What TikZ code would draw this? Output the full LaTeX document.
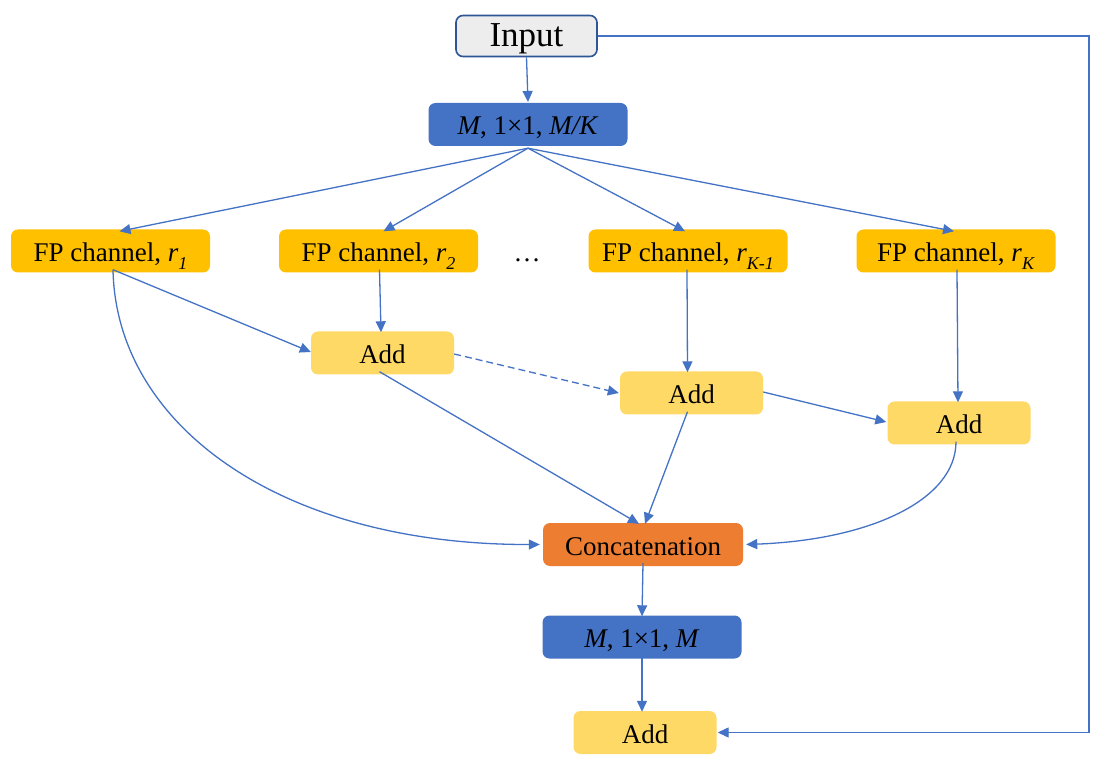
\documentclass[tikz,border=0pt]{standalone}
\usepackage{fontspec}
\setmainfont{Liberation Serif}
\usetikzlibrary{arrows.meta}
\definecolor{lineblue}{HTML}{4472C4}
\definecolor{darkblue}{HTML}{2F5597}
\definecolor{fpfill}{HTML}{FFC000}
\definecolor{addfill}{HTML}{FFD966}
\definecolor{catfill}{HTML}{ED7D31}
\definecolor{inpfill}{HTML}{EDEDED}
\newcommand{\sbx}[1]{\raisebox{-0.28em}{\fontsize{18}{18}\selectfont\textit{#1}}}
\tikzset{
  box/.style={rounded corners=7pt, inner sep=0pt, align=center,
    font=\fontsize{27}{30}\selectfont, text=black, text height=22pt, text depth=0pt},
  fpbox/.style={box, fill=fpfill, minimum width=199pt, minimum height=43pt},
  addbox/.style={box, fill=addfill, minimum width=143pt, minimum height=43pt},
  convbox/.style={box, fill=lineblue, minimum width=199pt, minimum height=43pt, text height=21pt},
  catbox/.style={box, fill=catfill, minimum width=200pt, minimum height=43pt, text height=21pt},
  inbox/.style={box, fill=inpfill, draw=darkblue, line width=1.6pt,
    minimum width=141pt, minimum height=41pt, font=\fontsize{35}{38}\selectfont},
  conn/.style={draw=lineblue, line width=1.3pt,
    -{Triangle[length=11pt,width=10pt]}},
}
\begin{document}
\begin{tikzpicture}[x=1pt,y=-1pt]
\useasboundingbox (0,0) rectangle (1112,767);
\fill[white] (0,0) rectangle (1112,767);

\node[inbox] (inp) at (526.5,36) {Input};
\node[convbox] (mk) at (528,124.5) {\textit{M}, 1×1, \textit{M/K}};
\node[fpbox] (fp1) at (110.5,251) {FP channel, \textit{r}\sbx{1}};
\node[fpbox] (fp2) at (378.5,251) {FP channel, \textit{r}\sbx{2}};
\node[box] (dots) at (527,251) {\textellipsis};
\node[fpbox] (fpk1) at (688,251) {FP channel, \textit{r}\sbx{K-1}};
\node[fpbox] (fpk) at (956,251) {FP channel, \textit{r}\sbx{K}};
\node[addbox] (add1) at (382.5,353) {Add};
\node[addbox] (add2) at (691.5,393) {Add};
\node[addbox] (add3) at (959,423) {Add};
\node[catbox] (cat) at (643,544.5) {Concatenation};
\node[convbox] (mm) at (642,637) {\textit{M}, 1×1, \textit{M}};
\node[addbox] (addf) at (645,732.5) {Add};
\coordinate (corner) at (1089,36);

\draw[conn] (inp.south) -- (mk.south |- 0,102);
\draw[conn] ([yshift=-2pt]mk.south) -- ([xshift=9pt,yshift=-2pt]fp1.north);
\draw[conn] ([yshift=-2pt]mk.south) -- ([xshift=5pt,yshift=-2pt]fp2.north);
\draw[conn] ([yshift=-2pt]mk.south) -- ([xshift=-3pt,yshift=-2pt]fpk1.north);
\draw[conn] ([yshift=-2pt]mk.south) -- ([xshift=-2pt,yshift=-2pt]fpk.north);

\draw[conn] ([xshift=2.5pt,yshift=3pt]fp1.south) -- ([yshift=1pt]add1.west);
\draw[conn] ([xshift=2.5pt,yshift=3pt]fp1.south) .. controls (116,425) and (280,545) .. ([xshift=-3pt]cat.west);
\draw[conn] ([xshift=1pt,yshift=3pt]fp2.south) -- ([xshift=-1.5pt,yshift=-1pt]add1.north);
\draw[conn] ([xshift=-1pt,yshift=3pt]fpk1.south) -- ([xshift=-4pt,yshift=-1pt]add2.north);
\draw[conn] ([xshift=1pt,yshift=3pt]fpk.south) -- ([xshift=-1pt,yshift=-1pt]add3.north);

\draw[conn, dashed, dash pattern=on 7pt off 4pt] ([yshift=-1pt]add1.east) -- ([xshift=-1pt]add2.west);
\draw[conn] ([yshift=1pt]add2.east) -- ([xshift=-1pt,yshift=1pt]add3.west);

\draw[conn] ([xshift=-3pt,yshift=3pt]add1.south) -- ([xshift=-4pt,yshift=-1pt]cat.north);
\draw[conn] ([xshift=-4pt,yshift=3pt]add2.south) -- ([xshift=2pt,yshift=-1pt]cat.north);
\draw[conn] ([xshift=-3pt,yshift=3pt]add3.south) .. controls (956,500) and (870,540) .. ([xshift=3pt]cat.east);

\draw[conn] ([yshift=3pt]cat.south) -- ([yshift=-1pt]mm.north);
\draw[conn] ([yshift=3pt]mm.south) -- ([xshift=-3pt,yshift=-1pt]addf.north);

\draw[conn] (inp.east) -- (corner) |- ([xshift=1pt]addf.east);
\end{tikzpicture}
\end{document}
